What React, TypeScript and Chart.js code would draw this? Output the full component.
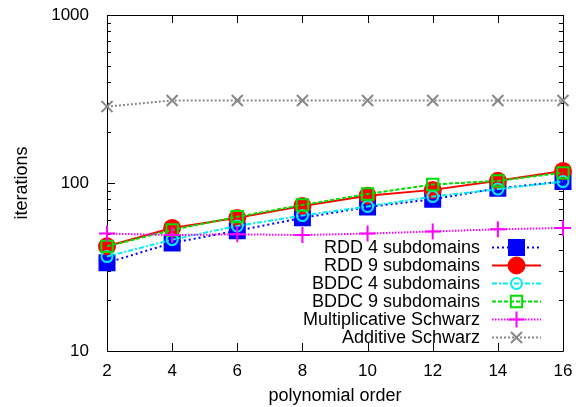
import React, { useEffect, useRef } from 'react';
import { Chart, registerables } from 'chart.js';

Chart.register(...registerables);

const polynomialOrders = [2, 4, 6, 8, 10, 12, 14, 16];
const rdd4 = [33.5, 44, 52, 62, 72, 80, 93, 102];
const rdd9 = [42, 54, 62, 73, 84, 91, 103, 118];
const bddc4 = [36.5, 46, 55.5, 64, 72.5, 83, 92, 102];
const bddc9 = [42, 52.5, 63, 74, 86, 98, 103, 115];
const multSchwarz = [50, 49, 49.5, 49, 50, 51.5, 53, 54];
const addSchwarz = [285, 310, 310, 310, 310, 310, 310, 310];

const seriesLabels = [
  'RDD 4 subdomains',
  'RDD 9 subdomains',
  'BDDC 4 subdomains',
  'BDDC 9 subdomains',
  'Multiplicative Schwarz',
  'Additive Schwarz',
];
const yTickLabels = [10, 100, 1000];
const xTickValues = [2, 4, 6, 8, 10, 12, 14, 16];
const xTitle = 'polynomial order';
const yTitle = 'iterations';

const FONT = "'Liberation Sans', Arial, Helvetica, sans-serif";

type Style = {
  color: string;
  dash: number[];
  point: string;
  radius: number;
  filled: boolean;
};

const styles: Style[] = [
  { color: '#0000ff', dash: [2, 3], point: 'rect', radius: 10.6, filled: true },
  { color: '#ff0000', dash: [], point: 'circle', radius: 8, filled: true },
  { color: '#00f0f0', dash: [5, 2, 2, 2], point: 'circle', radius: 5.5, filled: false },
  { color: '#00dd00', dash: [4, 2], point: 'rect', radius: 8, filled: false },
  { color: '#ff00ff', dash: [1.5, 1.5], point: 'cross', radius: 8, filled: false },
  { color: '#888888', dash: [2, 2], point: 'crossRot', radius: 7.8, filled: false },
];

function drawMarker(ctx: CanvasRenderingContext2D, s: Style, x: number, y: number) {
  ctx.save();
  ctx.setLineDash([]);
  ctx.strokeStyle = s.color;
  ctx.fillStyle = s.color;
  ctx.lineWidth = 2;
  const r = s.radius;
  ctx.beginPath();
  if (s.point === 'rect') {
    const h = r * Math.SQRT1_2;
    ctx.rect(x - h, y - h, 2 * h, 2 * h);
  } else if (s.point === 'circle') {
    ctx.arc(x, y, r, 0, Math.PI * 2);
  } else if (s.point === 'cross') {
    ctx.moveTo(x - r, y);
    ctx.lineTo(x + r, y);
    ctx.moveTo(x, y - r);
    ctx.lineTo(x, y + r);
  } else {
    const h = r * Math.SQRT1_2;
    ctx.moveTo(x - h, y - h);
    ctx.lineTo(x + h, y + h);
    ctx.moveTo(x - h, y + h);
    ctx.lineTo(x + h, y - h);
  }
  if (s.filled) ctx.fill();
  ctx.stroke();
  ctx.restore();
}

const decorPlugin = {
  id: 'decor',
  beforeDatasetsDraw(chart: any) {
    const { ctx, chartArea } = chart;
    const { left, right, top, bottom } = chartArea;
    const xs = chart.scales.x;
    const ys = chart.scales.y;
    ctx.save();
    ctx.strokeStyle = '#000';
    ctx.lineWidth = 1;
    ctx.setLineDash([]);
    ctx.beginPath();
    ctx.rect(Math.round(left) + 0.5, Math.round(top) + 0.5, Math.round(right - left), Math.round(bottom - top));
    ctx.stroke();
    const major = 8;
    const minor = 4;
    ctx.beginPath();
    for (const v of xTickValues) {
      const px = Math.round(xs.getPixelForValue(v)) + 0.5;
      ctx.moveTo(px, bottom);
      ctx.lineTo(px, bottom - major);
      ctx.moveTo(px, top);
      ctx.lineTo(px, top + major);
    }
    for (const d of yTickLabels) {
      const py = Math.round(ys.getPixelForValue(d)) + 0.5;
      ctx.moveTo(left, py);
      ctx.lineTo(left + major, py);
      ctx.moveTo(right, py);
      ctx.lineTo(right - major, py);
      if (d < 1000) {
        for (let k = 2; k <= 9; k++) {
          const pm = Math.round(ys.getPixelForValue(d * k)) + 0.5;
          ctx.moveTo(left, pm);
          ctx.lineTo(left + minor, pm);
          ctx.moveTo(right, pm);
          ctx.lineTo(right - minor, pm);
        }
      }
    }
    ctx.stroke();
    ctx.restore();
  },
  afterDraw(chart: any) {
    const { ctx, chartArea } = chart;
    ctx.save();
    ctx.fillStyle = '#000';
    ctx.font = `18px ${FONT}`;
    ctx.textAlign = 'center';
    ctx.textBaseline = 'alphabetic';
    ctx.fillText(xTitle, (chartArea.left + chartArea.right) / 2, 401);
    ctx.save();
    ctx.translate(27, 183);
    ctx.rotate(-Math.PI / 2);
    ctx.fillText(yTitle, 0, 0);
    ctx.restore();
    const textRight = 480;
    const lineStart = 492;
    const lineEnd = 541;
    const markerX = 516.5;
    seriesLabels.forEach((label, i) => {
      const y = 247.5 + 18 * i;
      const s = styles[i];
      ctx.fillStyle = '#000';
      ctx.textAlign = 'right';
      ctx.textBaseline = 'middle';
      ctx.fillText(label, textRight, y + 1);
      ctx.save();
      ctx.strokeStyle = s.color;
      ctx.lineWidth = 2;
      ctx.setLineDash(s.dash);
      ctx.beginPath();
      ctx.moveTo(lineStart, y);
      ctx.lineTo(lineEnd, y);
      ctx.stroke();
      ctx.restore();
      drawMarker(ctx, s, markerX, y);
    });
    ctx.restore();
  },
};

export default function App() {
  const canvasRef = useRef<HTMLCanvasElement | null>(null);

  useEffect(() => {
    document.body.style.margin = '0';
    const canvas = canvasRef.current;
    if (!canvas) return;
    const seriesData = [rdd4, rdd9, bddc4, bddc9, multSchwarz, addSchwarz];
    const datasets = seriesData.map((vals, i) => {
      const s = styles[i];
      return {
        label: seriesLabels[i],
        data: polynomialOrders.map((x, j) => ({ x, y: vals[j] })),
        borderColor: s.color,
        backgroundColor: s.filled ? s.color : 'rgba(0,0,0,0)',
        borderWidth: 2,
        borderDash: s.dash,
        pointStyle: s.point,
        pointRadius: s.radius,
        pointBorderWidth: 2,
        pointBorderColor: s.color,
        pointBackgroundColor: s.filled ? s.color : 'rgba(0,0,0,0)',
        fill: false,
        tension: 0,
        clip: false,
        order: seriesData.length - i,
      };
    });
    const chart = new Chart(canvas, {
      type: 'line',
      data: { datasets },
      plugins: [decorPlugin],
      options: {
        animation: false,
        responsive: false,
        devicePixelRatio: 1,
        layout: { autoPadding: false, padding: { top: 15, right: 13, left: 0, bottom: 0 } },
        plugins: {
          legend: { display: false },
          tooltip: { enabled: false },
        },
        scales: {
          x: {
            type: 'linear',
            min: 2,
            max: 16,
            grid: { display: false },
            border: { display: false },
            afterFit: (scale: any) => {
              scale.height = 56;
              scale.paddingLeft = 0;
              scale.paddingRight = 0;
            },
            ticks: {
              stepSize: 2,
              padding: 2,
              color: '#000',
              font: { family: FONT, size: 17 },
            },
          },
          y: {
            type: 'logarithmic',
            min: 10,
            max: 1000,
            grid: { display: false },
            border: { display: false },
            afterFit: (scale: any) => {
              scale.width = 107;
              scale.paddingTop = 0;
              scale.paddingBottom = 0;
            },
            ticks: {
              autoSkip: false,
              padding: 10,
              color: '#000',
              font: { family: FONT, size: 17 },
              callback: (v: any) => (yTickLabels.includes(Number(v)) ? String(v) : ''),
            },
          },
        },
      },
    } as any);
    return () => chart.destroy();
  }, []);

  return (
    <div style={{ width: 576, height: 407 }}>
      <canvas ref={canvasRef} width={576} height={407} style={{ display: 'block' }} />
    </div>
  );
}
